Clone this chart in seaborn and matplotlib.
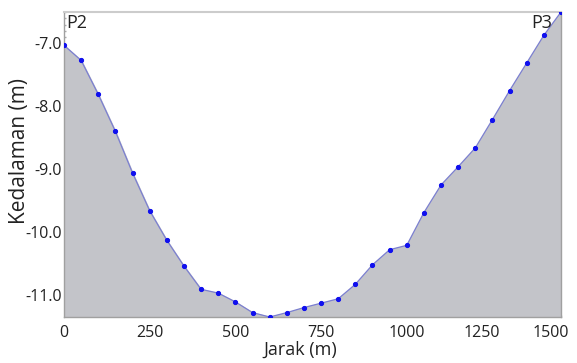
import matplotlib
matplotlib.use("Agg")
import matplotlib.pyplot as plt
import seaborn as sns
import pandas as pd
import numpy as np
from matplotlib.ticker import MultipleLocator

jarak = [0, 50, 100, 150, 200, 250, 300, 350, 400, 450, 500, 550, 600, 650, 700,
         750, 800, 850, 900, 950, 1000, 1050, 1100, 1150, 1200, 1250, 1300, 1350, 1400, 1450]
kedalaman = [-7.03, -7.27, -7.81, -8.40, -9.06, -9.66, -10.13, -10.54, -10.91, -10.97,
             -11.11, -11.28, -11.35, -11.28, -11.20, -11.13, -11.06, -10.83, -10.52, -10.28,
             -10.21, -9.69, -9.25, -8.96, -8.66, -8.21, -7.75, -7.31, -6.87, -6.50]
xtick_pos = [0, 250, 500, 750, 1000, 1220, 1420]
xtick_labels = ["0", "250", "500", "750", "1000", "1250", "1500"]
ytick_vals = [-7.0, -8.0, -9.0, -10.0, -11.0]

df = pd.DataFrame({"Jarak": jarak, "Kedalaman": kedalaman})

sns.set_theme(style="white")
plt.rcParams['font.family'] = ['Open Sans', 'DejaVu Sans']

fig = plt.figure(figsize=(5.77, 3.63), dpi=100)
ax = fig.add_axes([64/577, 1-317/363, (561-64)/577, (317-12)/363])

ymin, ymax = -11.35, -6.50
ax.fill_between(df["Jarak"], df["Kedalaman"], ymin, color="#c3c4c9", zorder=1)
sns.lineplot(data=df, x="Jarak", y="Kedalaman", ax=ax, color="#7b7fd0", linewidth=0.9,
             marker="o", markersize=3.0, markerfacecolor="#1010ee", markeredgecolor="#1010ee",
             zorder=3)

ax.set_xlim(0, 1450)
ax.set_ylim(ymin, ymax)
ax.set_xticks(xtick_pos)
ax.set_xticklabels(xtick_labels, fontsize=11.5, color="#222222")
ax.set_yticks(ytick_vals)
ax.set_yticklabels([f"{v:.1f}" for v in ytick_vals], fontsize=11.5, color="#222222")
ax.xaxis.set_minor_locator(MultipleLocator(25))
ax.yaxis.set_minor_locator(MultipleLocator(0.1))
ax.tick_params(axis="both", which="major", length=3, color="#999999")
ax.tick_params(axis="x", which="major", pad=6)
ax.tick_params(axis="y", which="major", pad=1.5)
ax.tick_params(axis="both", which="minor", length=1.5, color="#aaaaaa", bottom=True, left=True)
ax.tick_params(axis="both", which="both", direction="in")

for side in ["left", "bottom", "right"]:
    ax.spines[side].set_color("#a0a0a0")
    ax.spines[side].set_linewidth(1.0)
ax.spines["top"].set_color("#cccccc")
ax.spines["top"].set_linewidth(1.5)

ax.set_xlabel("Jarak (m)", fontsize=13, color="#222222")
ax.xaxis.set_label_coords(0.475, -0.078, transform=ax.transAxes)
ax.xaxis.label.set_va("top")
ax.set_ylabel("Kedalaman (m)", fontsize=15, color="#222222")
ax.yaxis.set_label_coords(-0.09, 0.544, transform=ax.transAxes)
ax.yaxis.label.set_va("center")

ax.text(0.004, 0.995, "P2", transform=ax.transAxes, ha="left", va="top", fontsize=13,
        color="#222222")
ax.text(0.982, 0.995, "P3", transform=ax.transAxes, ha="right", va="top", fontsize=13,
        color="#222222")

fig.savefig("out.png", dpi=100)
